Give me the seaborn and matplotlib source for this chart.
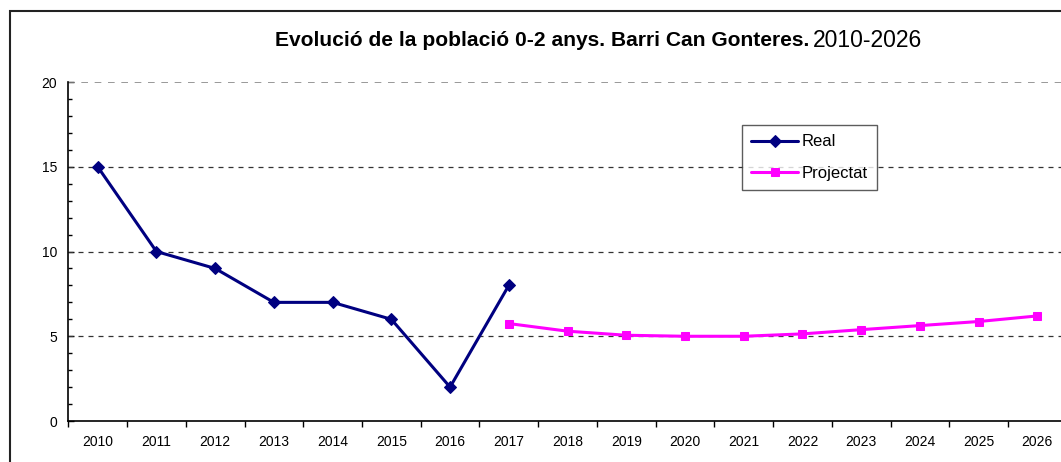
import numpy as np
import pandas as pd
import matplotlib
matplotlib.use("Agg")
import matplotlib.pyplot as plt
from matplotlib.patches import Rectangle
from matplotlib.ticker import MultipleLocator, FixedLocator
import seaborn as sns

# dades llegides del gràfic
anys_real = [2010, 2011, 2012, 2013, 2014, 2015, 2016, 2017]
valors_real = [15, 10, 9, 7, 7, 6, 2, 8]
anys_proj = [2017, 2018, 2019, 2020, 2021, 2022, 2023, 2024, 2025, 2026]
valors_proj = [5.75, 5.3, 5.06, 5.0, 5.0, 5.14, 5.39, 5.63, 5.87, 6.2]
anys_tot = list(range(2010, 2027))

sns.set_style("white")
plt.rcParams['font.family'] = ['Liberation Sans', 'DejaVu Sans']
plt.rcParams['text.color'] = 'black'

df_real = pd.DataFrame({'any': anys_real, 'valor': valors_real})
df_proj = pd.DataFrame({'any': anys_proj, 'valor': valors_proj})

fig = plt.figure(figsize=(10.61, 4.62), dpi=100)
ax = fig.add_axes([0.0644, 0.0887, 0.941, 0.7338])

# marc exterior del gràfic
fig.patches.append(Rectangle((10 / 1061, -0.1), 1.2, 1 - 11 / 462 + 0.1,
                             transform=fig.transFigure, fill=False,
                             edgecolor='#222222', linewidth=1.5))

# línies de quadrícula
for v in [5, 10, 15]:
    ax.axhline(v, color='#333333', linestyle=(0, (4, 4)), linewidth=0.9, zorder=1)
ax.axhline(20, color='#888888', linestyle=(0, (4, 4)), linewidth=1.2, zorder=1)

sns.lineplot(data=df_real, x='any', y='valor', ax=ax, color='#000080',
             marker='D', markersize=6, linewidth=2.2, markeredgecolor='#000080',
             label='Real', zorder=3)
sns.lineplot(data=df_proj, x='any', y='valor', ax=ax, color='#FF00FF',
             marker='s', markersize=6, linewidth=2.2, markeredgecolor='#FF00FF',
             label='Projectat', zorder=3)

ax.set_xlim(2009.5, 2026.5)
ax.set_ylim(0, 20)
ax.set_xlabel('')
ax.set_ylabel('')

ax.xaxis.set_major_locator(FixedLocator(anys_tot))
ax.set_xticklabels([str(a) for a in anys_tot])
ax.xaxis.set_minor_locator(FixedLocator([a - 0.5 for a in anys_tot]))
ax.tick_params(axis='x', which='major', length=0, pad=10, labelsize=10, colors='black')
ax.tick_params(axis='x', which='minor', length=4, width=1, direction='out',
               color='black', bottom=True)

ax.yaxis.set_major_locator(MultipleLocator(5))
ax.yaxis.set_minor_locator(MultipleLocator(1))
ax.tick_params(axis='y', which='major', length=4, width=1, direction='in',
               labelsize=10, pad=8, colors='black', left=True)
ax.tick_params(axis='y', which='minor', length=3, width=1, direction='in',
               color='black', left=True)

for s in ['top', 'right']:
    ax.spines[s].set_visible(False)
for s in ['left', 'bottom']:
    ax.spines[s].set_color('black')
    ax.spines[s].set_linewidth(1.2)

leg = ax.legend(loc='upper left', bbox_to_anchor=(0.6665, 0.897), frameon=True,
                fancybox=False, edgecolor='#333333', fontsize=12,
                handlelength=2.8, handletextpad=0.25, borderpad=0.55,
                labelspacing=1.0)
leg.get_frame().set_linewidth(1.0)
for t in leg.get_texts():
    t.set_color('black')

fig.text(0.7625, 0.912, 'Evolució de la població 0-2 anys. Barri Can Gonteres.',
         ha='right', va='center', fontsize=15.1, fontweight='bold', color='black')
fig.text(0.7665, 0.912, '2010-2026', ha='left', va='center', fontsize=16.5,
         color='black')

fig.savefig('out.png', dpi=100)
